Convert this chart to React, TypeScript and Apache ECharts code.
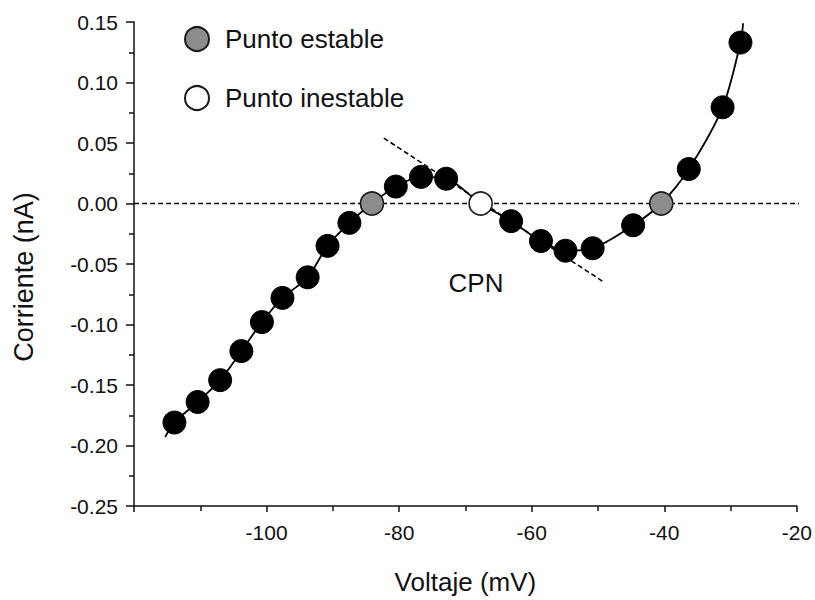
import React, { useEffect, useRef } from "react";
import * as echarts from "echarts";

const FONT = "'Liberation Sans', Arial, Helvetica, sans-serif";

// Measured points (voltage in mV, current in nA)
const voltage = [
  -113.9, -110.4, -107.0, -103.8, -100.7, -97.6, -93.8, -90.8, -87.5, -84.1,
  -80.5, -76.7, -72.9, -67.7, -63.1, -58.6, -54.9, -50.8, -44.7, -40.45,
  -36.3, -31.2, -28.5,
];
const current = [
  -0.181, -0.164, -0.146, -0.122, -0.098, -0.078, -0.061, -0.035, -0.016, 0,
  0.014, 0.022, 0.0205, 0, -0.0146, -0.031, -0.039, -0.037, -0.018, 0,
  0.0285, 0.0795, 0.133,
];
// point kinds: 0 = ordinary, 1 = stable, 2 = unstable
const kind = [
  0, 0, 0, 0, 0, 0, 0, 0, 0, 1,
  0, 0, 0, 2, 0, 0, 0, 0, 0, 1,
  0, 0, 0,
];
// fitted curve extends a little past the first and last points
const curveStart = [-115.3, -0.193];
const curveEnd = [-28.1, 0.149];
// reference lines
const zeroLine = [
  [-120, 0],
  [-18.7, 0],
];
const tangentLine = [
  [-82.3, 0.054],
  [-49.1, -0.065],
];
const xTicks = { min: -120, max: -20, interval: 20 };
const yTicks = { min: -0.25, max: 0.15, interval: 0.05 };
const legendNames = ["Punto estable", "Punto inestable"];

export default function App() {
  const ref = useRef<HTMLDivElement>(null);

  useEffect(() => {
    if (!ref.current) return;
    const chart = echarts.init(ref.current, undefined, { renderer: "svg" });

    const pts = voltage.map((v, i) => [v, current[i]]);
    const ordinary = pts.filter((_, i) => kind[i] === 0);
    const stable = pts.filter((_, i) => kind[i] === 1);
    const unstable = pts.filter((_, i) => kind[i] === 2);
    const curve = [curveStart, ...pts, curveEnd];

    const axisColor = "#111";
    const lineStyle = { color: axisColor, width: 1.5 };

    const option: any = {
      animation: false,
      backgroundColor: "#ffffff",
      textStyle: { fontFamily: FONT },
      grid: { left: 134, right: 17, top: 22, bottom: 92, containLabel: false },
      legend: {
        data: legendNames,
        orient: "vertical",
        left: 179,
        top: 21,
        itemWidth: 24,
        itemHeight: 24,
        itemGap: 33,
        icon: "circle",
        selectedMode: false,
        textStyle: {
          fontFamily: FONT,
          fontSize: 26,
          color: "#111",
          padding: [0, 0, 0, 11],
        },
      },
      xAxis: {
        type: "value",
        min: xTicks.min,
        max: xTicks.max,
        interval: xTicks.interval,
        name: "Voltaje (mV)",
        nameLocation: "middle",
        nameGap: 63,
        nameTextStyle: { fontSize: 26, color: "#111", fontFamily: FONT },
        axisLine: { show: true, onZero: false, lineStyle },
        axisTick: { show: true, inside: false, length: 6, lineStyle },
        minorTick: { show: true, splitNumber: 2, length: 5, lineStyle },
        splitLine: { show: false },
        minorSplitLine: { show: false },
        axisLabel: {
          fontSize: 21,
          color: "#111",
          fontFamily: FONT,
          margin: 16,
          formatter: (v: number) => (v === xTicks.min ? "" : String(v)),
        },
      },
      yAxis: {
        type: "value",
        min: yTicks.min,
        max: yTicks.max,
        interval: yTicks.interval,
        axisLine: { show: true, onZero: false, lineStyle },
        axisTick: { show: true, inside: false, length: 8, lineStyle },
        minorTick: { show: true, splitNumber: 2, length: 5, lineStyle },
        splitLine: { show: false },
        minorSplitLine: { show: false },
        axisLabel: {
          fontSize: 21,
          color: "#111",
          fontFamily: FONT,
          margin: 16,
          formatter: (v: number) =>
            Math.abs(v) < 1e-9 ? "0.00" : v.toFixed(2),
        },
      },
      graphic: [
        {
          type: "text",
          x: 24,
          y: 277,
          rotation: Math.PI / 2,
          style: {
            text: "Corriente (nA)",
            fontSize: 27,
            fontFamily: FONT,
            fill: "#111",
            align: "center",
            verticalAlign: "middle",
          },
        },
        {
          type: "text",
          x: 476,
          y: 283,
          style: {
            text: "CPN",
            fontSize: 26,
            fontFamily: FONT,
            fill: "#111",
            align: "center",
            verticalAlign: "middle",
          },
        },
      ],
      series: [
        {
          name: "cero",
          type: "line",
          data: zeroLine,
          symbol: "none",
          clip: false,
          silent: true,
          z: 1,
          lineStyle: { color: "#000", width: 1.6, type: [5, 3] },
        },
        {
          name: "tangente",
          type: "line",
          data: tangentLine,
          symbol: "none",
          silent: true,
          z: 1,
          lineStyle: { color: "#000", width: 1.6, type: [5, 3] },
        },
        {
          name: "curva",
          type: "line",
          data: curve,
          symbol: "none",
          smooth: 0.3,
          silent: true,
          z: 2,
          lineStyle: { color: "#000", width: 1.8 },
        },
        {
          name: "puntos",
          type: "scatter",
          data: ordinary,
          symbolSize: 23,
          z: 3,
          itemStyle: {
            color: "#000",
            borderColor: "#000",
            borderWidth: 1,
            opacity: 1,
          },
        },
        {
          name: legendNames[0],
          type: "scatter",
          data: stable,
          symbolSize: 23,
          z: 4,
          itemStyle: {
            color: "#8c8c8c",
            borderColor: "#1a1a1a",
            borderWidth: 1.6,
            opacity: 1,
          },
        },
        {
          name: legendNames[1],
          type: "scatter",
          data: unstable,
          symbolSize: 23,
          z: 4,
          itemStyle: {
            color: "#ffffff",
            borderColor: "#1a1a1a",
            borderWidth: 1.6,
            opacity: 1,
          },
        },
      ],
    };

    chart.setOption(option);
    return () => chart.dispose();
  }, []);

  return (
    <div
      ref={ref}
      style={{ position: "fixed", left: 0, top: 0, width: 815, height: 600 }}
    />
  );
}
